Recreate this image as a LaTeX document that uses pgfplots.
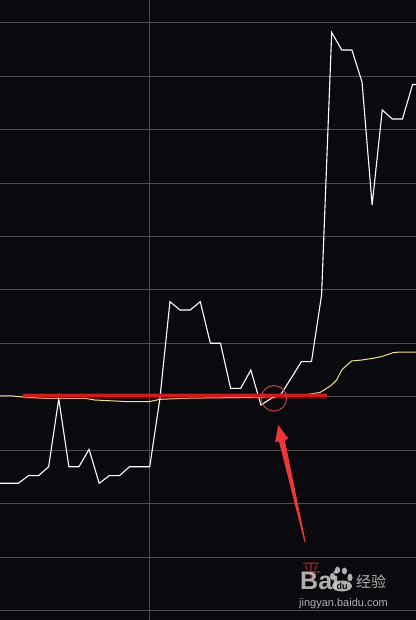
\documentclass[border=0pt]{standalone}
\usepackage{fontspec}
\setmainfont{Liberation Sans}
\newfontfamily\cjk{Noto Sans CJK SC}
\usepackage{pgfplots}
\pgfplotsset{compat=1.18}
\definecolor{bg}{RGB}{10,9,13}
\definecolor{gridc}{RGB}{78,78,82}
\definecolor{avgc}{RGB}{235,228,140}
\definecolor{redl}{RGB}{205,28,28}
\definecolor{arrowc}{RGB}{235,55,55}
\definecolor{circc}{RGB}{185,70,70}
\definecolor{wm}{RGB}{205,205,205}
\definecolor{wmred}{RGB}{150,30,40}
\begin{document}
\begin{tikzpicture}
\begin{axis}[name=ax, width=416bp, height=620bp, scale only axis,
  xmin=0.188, xmax=41.34, ymin=-4.176, ymax=7.424,
  axis line style={draw=none},
  xtick={15}, ytick={-4,-3,-2,-1,0,1,2,3,4,5,6,7},
  xticklabels={}, yticklabels={},
  major tick length=0pt, grid=major,
  major grid style={gridc, line width=1bp},
  axis background/.style={fill=bg},
  ]
\addplot[avgc, line width=1bp] coordinates {
(0.188,0.015) (1.474,0.015) (2.46,-0.004) (4.44,-0.028) (8.6,-0.028) (9.58,-0.06)
(12.55,-0.088) (15.02,-0.088) (16.01,-0.047) (18.49,-0.028) (23.93,-0.013)
(28.87,0.006) (29.86,0.024) (31.84,0.08) (32.93,0.211) (33.49,0.314) (33.99,0.501)
(34.41,0.576) (34.97,0.67) (35.96,0.688) (37.08,0.72) (37.97,0.754) (39.06,0.825)
(39.75,0.838) (41.34,0.838)};
\addplot[white, line width=1.1bp] coordinates {
(0,-1.618) (1,-1.618) (2,-1.618) (3,-1.476) (4,-1.476) (5,-1.308) (6,-0.037)
(7,-1.308) (8,-1.308) (9,-0.982) (10,-1.618) (11,-1.476) (12,-1.476) (13,-1.308)
(14,-1.308) (15,-1.308) (16,-0.04) (17,1.779) (18,1.624) (19,1.624) (20,1.779)
(21,1.001) (22,1.001) (23,0.159) (24,0.159) (25,0.501) (26,-0.153) (27,-0.032)
(28,0.052) (29,0.352) (30,0.657) (31,0.657) (32,1.905) (33,6.816) (34,6.488)
(35,6.488) (36,5.890) (37,3.588) (38,5.366) (39,5.197) (40,5.197) (41,5.843)
(41.34,5.843)};
\addplot[redl, opacity=0.35, line width=6bp] coordinates {(2.49,0.024) (32.5,0.024)};
\addplot[redl, line width=3bp] coordinates {(2.49,0.024) (32.5,0.024)};
\draw[circc, line width=1bp] (axis cs:27.29,-0.028) circle[radius=12.7bp];
\fill[arrowc] (axis cs:27.71,-0.528) -- (axis cs:28.74,-0.790) -- (axis cs:28.36,-0.806)
  -- (axis cs:30.42,-2.712) -- (axis cs:30.30,-2.717) -- (axis cs:27.78,-0.833)
  -- (axis cs:27.4,-0.849) -- cycle;
\end{axis}
\pgfresetboundingbox
\path[use as bounding box] (ax.south west) rectangle (ax.north east);
\begin{scope}[shift={(ax.north west)}, x=1bp, y=-1bp]
  \node[inner sep=0, text=wmred, anchor=center] at (311,572)
    {\cjk\fontsize{20bp}{20bp}\selectfont 平};
  \node[inner sep=0, text=wm, opacity=0.85, anchor=base west] at (300,589.5)
    {\fontsize{25bp}{25bp}\selectfont\bfseries Bai};
  \begin{scope}[fill=wm, opacity=0.85]
    \fill (332.5,576.5) ellipse[x radius=2.6, y radius=3.6];
    \fill (337.5,570) ellipse[x radius=2.6, y radius=3.4];
    \fill (344.5,571) ellipse[x radius=2.6, y radius=3.4];
    \fill (350,577.5) ellipse[x radius=2.6, y radius=3.8];
    \fill (342,586) ellipse[x radius=10, y radius=5.5];
  \end{scope}
  \node[inner sep=0, text=bg, anchor=center] at (342,586.5)
    {\fontsize{9bp}{9bp}\selectfont\bfseries du};
  \node[inner sep=0, text=wm, opacity=0.85, anchor=west] at (356,581.5)
    {\cjk\fontsize{15bp}{15bp}\selectfont 经验};
  \node[inner sep=0, text=wm, opacity=0.85, anchor=base west] at (299,607)
    {\fontsize{11bp}{11bp}\selectfont jingyan.baidu.com};
\end{scope}
\end{tikzpicture}
\end{document}
